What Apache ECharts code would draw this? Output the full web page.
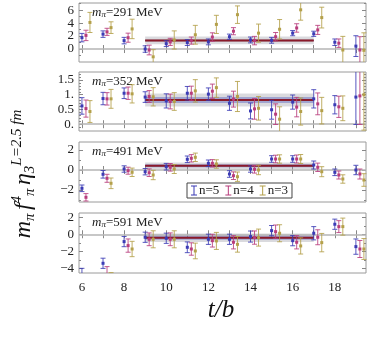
<!DOCTYPE html>
<html>
<head>
<meta charset="utf-8">
<script src="https://cdn.jsdelivr.net/npm/echarts@6/dist/echarts.min.js"></script>
<style>
  html, body { margin: 0; padding: 0; background: #fff; }
  #chart { width: 388px; height: 338px; }
</style>
</head>
<body>
<div id="chart"></div>
<script>
// time slices
const tValues = [6, 7, 8, 9, 10, 11, 12, 13, 14, 15, 16, 17, 18, 19]

// m_pi = 291 MeV
const m291_n5 = [1.76, 2.3, 1.3, 0.0, 0.83, 1.0, 1.1, 1.9, 1.4, 1.35, 2.45, 2.35, 1.05, 0.45]
const m291_n5_err = [0.65, 0.5, 0.5, 0.5, 0.45, 0.45, 0.45, 0.4, 0.45, 0.45, 0.4, 0.4, 0.5, 1.6]
const m291_n4 = [2.1, 2.65, 1.75, -0.15, 1.1, 1.3, 1.85, 2.75, 1.3, 1.9, 3.25, 2.95, 0.9, -0.15]
const m291_n4_err = [0.8, 0.55, 0.7, 0.75, 0.55, 0.55, 0.65, 0.55, 0.65, 0.65, 0.65, 0.7, 0.65, 2.05]
const m291_n3 = [4.1, 3.3, 3.1, -1.2, 1.4, 2.2, 3.8, 5.3, 2.45, 3.05, 6.05, 4.85, -0.15, -0.2]
const m291_n3_err = [1.55, 0.9, 1.5, 1.1, 1.4, 1.45, 1.4, 1.35, 1.4, 1.5, 1.6, 1.6, 2.1, 2.7]

// m_pi = 352 MeV
const m352_n5 = [0.62, 0.87, 1.05, 0.92, 0.79, 1.05, 1.02, 0.71, 0.45, 0.49, 0.75, 0.86, 0.66, 0.92]
const m352_n5_err = [0.28, 0.21, 0.18, 0.18, 0.24, 0.23, 0.21, 0.24, 0.27, 0.32, 0.24, 0.31, 0.31, 0.93]
const m352_n4 = [0.53, 0.86, 1.05, 0.94, 0.77, 1.05, 1.12, 0.85, 0.52, 0.34, 0.58, 0.69, 0.59, 0.96]
const m352_n4_err = [0.29, 0.21, 0.21, 0.2, 0.25, 0.24, 0.24, 0.27, 0.35, 0.35, 0.33, 0.37, 0.36, 0.97]
const m352_n3 = [0.43, 0.86, 1.03, 0.93, 0.77, 1.13, 1.24, 0.94, 0.54, 0.17, 0.43, 0.46, 0.54, 1.0]
const m352_n3_err = [0.37, 0.32, 0.31, 0.31, 0.3, 0.38, 0.33, 0.51, 0.4, 0.42, 0.46, 0.45, 0.42, 1.2]

// m_pi = 491 MeV
const m491_n5 = [-1.83, -0.43, 0.1, -0.17, 0.33, 1.07, 0.67, -0.4, 0.1, 1.1, 1.1, 0.5, -0.23, 0.0]
const m491_n5_err = [0.33, 0.38, 0.32, 0.32, 0.33, 0.33, 0.33, 0.33, 0.32, 0.33, 0.33, 0.4, 0.33, 0.47]
const m491_n4 = [-2.73, -0.83, -0.07, -0.27, 0.27, 1.17, 0.67, -0.57, 0.07, 1.1, 1.1, 0.27, -0.5, -0.4]
const m491_n4_err = [0.37, 0.4, 0.35, 0.38, 0.38, 0.37, 0.37, 0.38, 0.38, 0.38, 0.4, 0.42, 0.4, 0.5]
const m491_n3 = [-3.9, -1.33, -0.23, -0.5, 0.1, 1.27, 0.6, -0.67, 0.0, 1.1, 1.1, -0.17, -0.9, -1.0]
const m491_n3_err = [0.5, 0.53, 0.42, 0.47, 0.45, 0.42, 0.42, 0.47, 0.47, 0.42, 0.45, 0.5, 0.42, 0.63]

// m_pi = 591 MeV
const m591_n5 = [-4.8, -3.41, -0.86, -0.35, -0.47, -1.53, -0.59, -0.59, -0.27, 0.43, -0.75, 0.12, 1.18, -1.45]
const m591_n5_err = [0.8, 0.6, 0.6, 0.6, 0.6, 0.63, 0.6, 0.6, 0.65, 0.6, 0.6, 0.78, 0.6, 0.9]
const m591_n4 = [-5.6, -4.6, -1.33, -0.59, -0.59, -1.73, -0.75, -0.94, -0.39, 0.31, -0.94, -0.35, 0.9, -1.73]
const m591_n4_err = [0.9, 0.8, 0.78, 0.75, 0.75, 0.73, 0.75, 0.78, 0.78, 0.78, 0.78, 0.88, 0.7, 1.0]
const m591_n3 = [-6.2, -5.5, -1.73, -0.59, -0.59, -1.96, -0.78, -1.18, -0.39, 0.12, -1.37, -0.98, 0.9, -1.73]
const m591_n3_err = [1.0, 1.0, 0.9, 1.0, 1.0, 0.92, 1.0, 0.92, 1.0, 1.0, 0.95, 1.08, 1.0, 1.23]

// plateau fits (t = 9 .. 17)
const fitRange = [9, 17]
const fitCenter = [1.32, 0.82, 0.43, -0.4]
const fitOuter = [0.6, 0.22, 0.33, 0.5]
const fitInner = [0.2, 0.1, 0.15, 0.25]

// panel labels / tick labels
const massLabels = ['291', '352', '491', '591']
const yTicks = [[0, 2, 4, 6], [0, 0.5, 1, 1.5], [-2, 0, 2], [-4, -2, 0, 2]]
const yMinorTicks = [[-1, 1, 3, 5, 7], [-0.1, 0.1, 0.2, 0.3, 0.4, 0.6, 0.7, 0.8, 0.9, 1.1, 1.2, 1.3, 1.4, 1.6, 1.7], [-3, -1, 1], [-3, -1, 1]]
const yRanges = [[-2.0, 7.1], [-0.23, 1.77], [-3.2, 2.8], [-4.55, 2.5]]
const xTicks = [6, 7, 8, 9, 10, 11, 12, 13, 14, 15, 16, 17, 18, 19]
const xLabels = [6, 8, 10, 12, 14, 16, 18]

const panels = [
  [m291_n5, m291_n5_err, m291_n4, m291_n4_err, m291_n3, m291_n3_err],
  [m352_n5, m352_n5_err, m352_n4, m352_n4_err, m352_n3, m352_n3_err],
  [m491_n5, m491_n5_err, m491_n4, m491_n4_err, m491_n3, m491_n3_err],
  [m591_n5, m591_n5_err, m591_n4, m591_n4_err, m591_n3, m591_n3_err]
]

const nNames = ['n=5', 'n=4', 'n=3']
const nColors = ['#3b3bb5', '#b83d7c', '#b4a04a']
const nShift = [0, 0.19, 0.38]

const SERIF = 'Liberation Serif'
const X_MIN = 5.86
const X_MAX = 19.48
const gridTops = [3, 72, 142, 213]
const gridHeights = [59, 59, 60, 60]

function fmtY(v) {
  if (v === 0) return '0'
  return (v < 0 ? '\u2212' : '') + String(Math.abs(v))
}
function fmtY2(v) {
  if (Number.isInteger(v)) return v + '.'
  return String(v)
}

function errorBarRender(color) {
  return function (params, api) {
    const x = api.value(0)
    const y = api.value(1)
    const e = api.value(2)
    const cs = params.coordSys
    const c = api.coord([x, y])
    const top = api.coord([x, y + e])[1]
    const bot = api.coord([x, y - e])[1]
    const yMin = cs.y
    const yMax = cs.y + cs.height
    const children = []
    const y1 = Math.max(top, yMin)
    const y2 = Math.min(bot, yMax)
    if (y1 >= y2) return { type: 'group', children: [] }
    const st = { stroke: color, lineWidth: 1, opacity: 0.85 }
    children.push({ type: 'line', shape: { x1: c[0], y1: y1, x2: c[0], y2: y2 }, style: st })
    if (top >= yMin) children.push({ type: 'line', shape: { x1: c[0] - 2.5, y1: top, x2: c[0] + 2.5, y2: top }, style: st })
    if (bot <= yMax) children.push({ type: 'line', shape: { x1: c[0] - 2.5, y1: bot, x2: c[0] + 2.5, y2: bot }, style: st })
    if (c[1] >= yMin && c[1] <= yMax) {
      children.push({ type: 'rect', shape: { x: c[0] - 1.5, y: c[1] - 1.5, width: 3, height: 3 }, style: { fill: color } })
    }
    return { type: 'group', children: children }
  }
}

const grids = []
const xAxes = []
const yAxes = []
const series = []
const graphics = []

const tickLine = { lineStyle: { color: '#888', width: 1 } }

function yAxisFor(i, pos, ticks, len, labels) {
  return {
    gridIndex: i, type: 'value', min: yRanges[i][0], max: yRanges[i][1], position: pos,
    axisLine: { show: false },
    axisTick: { show: true, inside: true, length: len, customValues: ticks, ...tickLine },
    axisLabel: labels ? {
      customValues: ticks, margin: 5,
      fontFamily: SERIF, fontSize: 13, color: '#222',
      formatter: i === 1 ? fmtY2 : fmtY
    } : { show: false },
    splitLine: { show: false }
  }
}

panels.forEach((p, i) => {
  grids.push({
    left: 79, width: 287, top: gridTops[i], height: gridHeights[i],
    show: true, borderColor: '#9a9a9a', borderWidth: 1, backgroundColor: 'transparent'
  })
  const isLast = i === panels.length - 1
  xAxes.push({
    gridIndex: i, type: 'value', min: X_MIN, max: X_MAX, position: 'bottom',
    axisLine: { show: false },
    axisTick: { show: true, inside: true, length: 4, customValues: xTicks, ...tickLine },
    axisLabel: {
      show: isLast, customValues: xLabels, margin: 8,
      fontFamily: SERIF, fontSize: 13, color: '#222'
    },
    splitLine: { show: false }
  })
  xAxes.push({
    gridIndex: i, type: 'value', min: X_MIN, max: X_MAX, position: 'top',
    axisLine: { show: false },
    axisTick: { show: true, inside: true, length: 4, customValues: xTicks, ...tickLine },
    axisLabel: { show: false },
    splitLine: { show: false }
  })
  yAxes.push(yAxisFor(i, 'left', yTicks[i], 4, true))
  yAxes.push(yAxisFor(i, 'right', yTicks[i], 4, false))
  yAxes.push(yAxisFor(i, 'left', yMinorTicks[i], 2, false))
  yAxes.push(yAxisFor(i, 'right', yMinorTicks[i], 2, false))

  const xIdx = i * 2
  const yIdx = i * 4

  // fit band + central value + zero line
  const c = fitCenter[i]
  series.push({
    type: 'line', xAxisIndex: xIdx, yAxisIndex: yIdx, silent: true,
    data: [[fitRange[0], c], [fitRange[1], c]],
    symbol: 'none', lineStyle: { color: '#8b1a2a', width: 2 }, z: 3,
    markLine: {
      silent: true, symbol: 'none', label: { show: false },
      lineStyle: { color: '#b4b4b4', width: 1.5, type: 'solid' },
      data: [{ yAxis: 0 }]
    },
    markArea: {
      silent: true,
      data: [
        [{ coord: [fitRange[0], c - fitOuter[i]], itemStyle: { color: 'rgba(150,150,160,0.35)' } }, { coord: [fitRange[1], c + fitOuter[i]] }],
        [{ coord: [fitRange[0], c - fitInner[i]], itemStyle: { color: i === 0 ? 'rgba(130,130,140,0.35)' : 'rgba(90,100,190,0.45)' } }, { coord: [fitRange[1], c + fitInner[i]] }]
      ]
    }
  })
  series.push({
    type: 'line', xAxisIndex: xIdx, yAxisIndex: yIdx, silent: true,
    data: [[fitRange[0], c], [fitRange[1], c]],
    symbol: 'none', lineStyle: { color: '#2c2c8a', width: 0.8 }, z: 2
  })

  for (let k = 0; k < 3; k++) {
    const vals = p[k * 2]
    const errs = p[k * 2 + 1]
    series.push({
      name: nNames[k], type: 'custom', xAxisIndex: xIdx, yAxisIndex: yIdx,
      itemStyle: { color: nColors[k] },
      renderItem: errorBarRender(nColors[k]),
      data: tValues.map((t, j) => [t + nShift[k], vals[j], errs[j]]),
      z: 5
    })
  }

  // panel label
  graphics.push({
    type: 'text', left: 92, top: gridTops[i] + 3,
    style: {
      text: '{i|m}{s|\u03c0}{n|=' + massLabels[i] + ' MeV}',
      rich: {
        i: { fontFamily: SERIF, fontStyle: 'italic', fontSize: 13, lineHeight: 14, fill: '#222' },
        s: { fontFamily: SERIF, fontStyle: 'italic', fontSize: 9, lineHeight: 9, verticalAlign: 'bottom', fill: '#222' },
        n: { fontFamily: SERIF, fontSize: 13, lineHeight: 14, fill: '#222' }
      }
    }
  })
})

// axis titles
graphics.push({
  type: 'text', x: 24, y: 174, rotation: Math.PI / 2,
  style: {
    text: '{m|m}{s|\u03c0} {m|f}{p|4}{s|\u03c0} {m|\u03b7}{s|3}{p|L=2.5 fm}',
    align: 'center', verticalAlign: 'middle',
    rich: {
      m: { fontFamily: SERIF, fontStyle: 'italic', fontSize: 24, lineHeight: 28, fill: '#111' },
      s: { fontFamily: SERIF, fontStyle: 'italic', fontSize: 15, lineHeight: 14, verticalAlign: 'bottom', fill: '#111' },
      p: { fontFamily: SERIF, fontStyle: 'italic', fontSize: 15, lineHeight: 14, verticalAlign: 'top', fill: '#111' }
    }
  }
})
graphics.push({
  type: 'text', x: 221, y: 310,
  style: {
    text: 't/b', fontFamily: SERIF, fontStyle: 'italic', fontSize: 25, fill: '#111',
    align: 'center', verticalAlign: 'middle'
  }
})

const chart = echarts.init(document.getElementById('chart'), null, { renderer: 'canvas' })
chart.setOption({
  animation: false,
  backgroundColor: '#fff',
  grid: grids,
  xAxis: xAxes,
  yAxis: yAxes,
  legend: {
    data: nNames, left: 187, top: 183,
    orient: 'horizontal', itemGap: 6, itemWidth: 6, itemHeight: 10,
    icon: 'path://M0,0H6V1H3.5V9H6V10H0V9H2.5V1H0Z',
    padding: [1, 4, 1, 4],
    borderColor: '#444', borderWidth: 1, backgroundColor: '#fff',
    textStyle: { fontFamily: SERIF, fontSize: 13, color: '#222', padding: [0, 0, 0, -3] },
    selectedMode: false
  },
  graphic: graphics,
  series: series
})
</script>
</body>
</html>
